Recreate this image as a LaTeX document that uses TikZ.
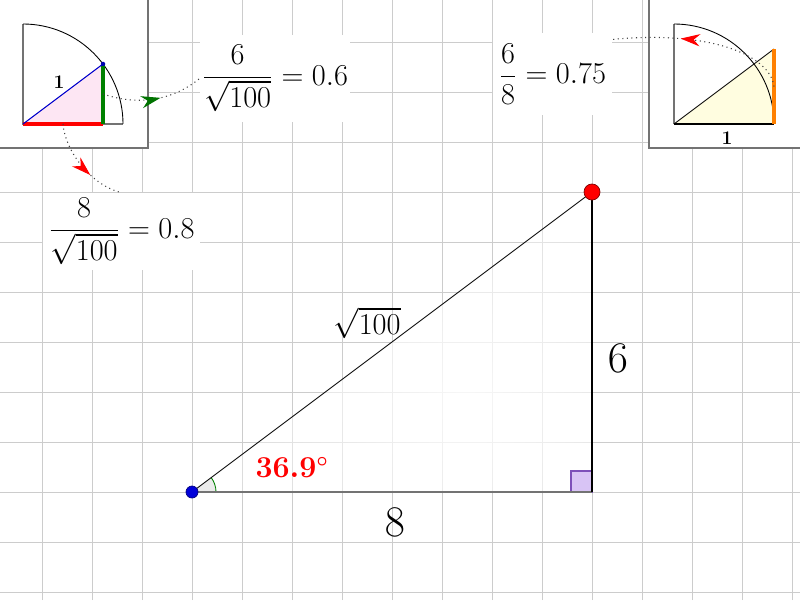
\documentclass[tikz,border=0pt]{standalone}
\usetikzlibrary{arrows.meta,decorations.markings,fadings,calc}
\tikzfading[name=trifade, inner color=transparent!15, outer color=transparent!75]
\definecolor{rabox}{RGB}{216,196,245}
\definecolor{raline}{RGB}{125,80,185}
\begin{document}
\begin{tikzpicture}[x=1cm,y=1cm,
  gridline/.style={draw=black!20, line width=0.55pt},
  insetframe/.style={fill=white, draw=black!55, line width=1.2pt},
  lbl/.style={fill=white, inner sep=1pt, font=\fontsize{16.5}{20}\selectfont},
  bignum/.style={font=\fontsize{32}{38}\selectfont},
  lnk/.style={dotted, line width=0.6pt, black!75},
  arrowmark/.style 2 args={postaction={decorate}, decoration={markings,
     mark=at position #1 with {\arrow{Stealth[length=11pt,width=7pt,color=#2]}}}},
  ]
\useasboundingbox (0,0) rectangle (16,12);
\clip (0,0) rectangle (16,12);
% grid
\foreach \i in {0,...,15} \draw[gridline] (0.84+\i,0) -- (0.84+\i,12);
\foreach \i in {0,...,11} \draw[gridline] (0,0.16+\i) -- (16,0.16+\i);
% main triangle
\coordinate (A) at (3.84,2.16);
\coordinate (B) at (11.84,2.16);
\coordinate (C) at (11.84,8.16);
\fill[white, path fading=trifade, fit fading=false,
      fading transform={shift={(9.3,4.0)}, scale=6}] (A) -- (B) -- (C) -- cycle;
\fill[black!8] (A) -- ([shift={(0.48,0)}]A) arc (0:36.87:0.48) -- cycle;
\draw[green!50!black, line width=0.5pt] ([shift={(0.48,0)}]A) arc (0:36.87:0.48);
\draw[fill=rabox, draw=raline, line width=0.8pt] (B) rectangle ++(-0.42,0.42);
\draw[black!55, line width=1.3pt] (A) -- (B);
\draw[line width=0.9pt] (B) -- (C);
\draw[line width=0.5pt] (A) -- (C);
\node[circle, fill=blue!85!black, draw=blue!50!black, inner sep=0pt, minimum size=0.24cm] (Ad) at (A) {};
\node[circle, fill=red, draw=red!50!black, inner sep=0pt, minimum size=0.32cm] (Cd) at (C) {};
\node[bignum] (l8) at (7.9,1.56) {$8$};
\node[bignum] (l6) at (12.36,4.84) {$6$};
\node[font=\fontsize{16.5}{20}\selectfont] (lh) at (7.34,5.54) {$\sqrt{100}$};
\node[text=red, font=\fontsize{16}{19}\selectfont\boldmath] (la) at (5.84,2.66) {$36.9^{\circ}$};
% left inset
\draw[insetframe] (-0.5,9.04) rectangle (2.96,12.5);
\coordinate (O1) at (0.46,9.52);
\coordinate (P1) at (2.06,10.72);
\coordinate (F1) at (2.06,9.52);
\coordinate (E1) at (2.46,9.52);
\coordinate (T1) at (0.46,11.52);
\fill[magenta!10] (O1) -- (F1) -- (P1) -- cycle;
\draw[black!55, line width=1.1pt] (T1) -- (O1) -- (E1);
\draw[line width=0.5pt] (E1) arc (0:90:2);
\draw[red, line width=2.2pt] (O1) -- (F1);
\draw[green!50!black, line width=2.2pt] (F1) -- (P1);
\draw[blue!80!black, line width=0.6pt] (O1) -- (P1);
\fill[blue!70!black] (P1) circle (0.045);
\node[font=\fontsize{11}{13}\selectfont\bfseries] (one1) at (1.18,10.36) {1};
% right inset
\draw[insetframe] (12.98,9.04) rectangle (16.5,12.5);
\coordinate (O2) at (13.48,9.52);
\coordinate (E2) at (15.48,9.52);
\coordinate (P2) at (15.48,11.02);
\coordinate (T2) at (13.48,11.52);
\fill[yellow!12] (O2) -- (E2) -- (P2) -- cycle;
\draw[black!55, line width=1.1pt] (T2) -- (O2);
\draw[line width=0.5pt] (E2) arc (0:90:2);
\draw[line width=0.5pt] (O2) -- (P2);
\draw[line width=1.5pt] (O2) -- (E2);
\draw[orange, line width=2.2pt] (E2) -- (P2);
\node[font=\fontsize{11}{13}\selectfont\bfseries] (one2) at (14.54,9.24) {1};
% value labels
\node[lbl, minimum width=3cm, minimum height=1.74cm] (q1) at (5.5,10.43) {$\displaystyle\frac{6}{\sqrt{100}}=0.6$};
\node[lbl, minimum width=3.14cm, minimum height=1.54cm] (q2) at (2.43,7.37) {$\displaystyle\frac{8}{\sqrt{100}}=0.8$};
\node[lbl, minimum width=2.38cm, minimum height=1.64cm] (q3) at (11.05,10.52) {$\displaystyle\frac{6}{8}=0.75$};
% links
\coordinate (M1) at ($(F1)!0.5!(P1)$);
\coordinate (M2) at ($(O1)!0.5!(F1)$);
\coordinate (M3) at ($(E2)!0.5!(P2)$);
\draw[lnk, arrowmark={0.57}{green!45!black}] (M1) .. controls (2.7,9.9) and (3.4,9.95) .. (q1.west);
\draw[lnk, arrowmark={0.62}{red}] (M2) .. controls (1.3,9.0) and (1.8,8.3) .. (q2.north);
\draw[lnk, arrowmark={0.62}{red}] (M3) .. controls (15.4,10.9) and (14.2,11.4) .. (q3.30);
\end{tikzpicture}
\end{document}
